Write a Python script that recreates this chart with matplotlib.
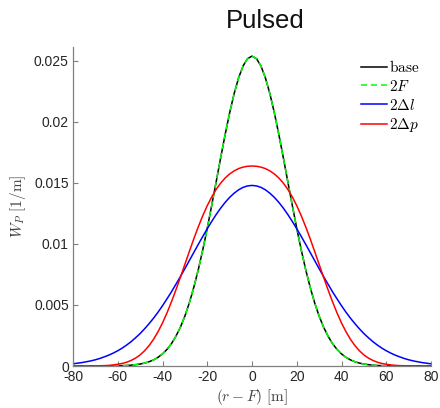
import numpy as np
import matplotlib
matplotlib.use("Agg")
import matplotlib.pyplot as plt

plt.rcParams['font.family'] = ['Liberation Sans', 'DejaVu Sans']
plt.rcParams['mathtext.fontset'] = 'cm'
plt.rcParams['axes.unicode_minus'] = False

# (r-F) grid, every 2 m
r_off = np.arange(-80, 81, 2)

# values
w_base = [0.0, 0.0, 0.0, 0.0, 0.0, 0.0, 0.0, 0.0,
          0.00001, 0.00001, 0.00002, 0.00003, 0.00004, 0.00007, 0.00011, 0.00016,
          0.00024, 0.00035, 0.00050, 0.00071, 0.00099, 0.00136, 0.00183, 0.00244,
          0.00318, 0.00409, 0.00518, 0.00645, 0.00790, 0.00952, 0.01128, 0.01317,
          0.01511, 0.01707, 0.01897, 0.02074, 0.02231, 0.02361, 0.02459, 0.02519,
          0.02540,
          0.02519, 0.02459, 0.02361, 0.02231, 0.02074, 0.01897, 0.01707, 0.01511,
          0.01317, 0.01128, 0.00952, 0.00790, 0.00645, 0.00518, 0.00409, 0.00318,
          0.00244, 0.00183, 0.00136, 0.00099, 0.00071, 0.00050, 0.00035, 0.00024,
          0.00016, 0.00011, 0.00007, 0.00004, 0.00003, 0.00002, 0.00001, 0.00001,
          0.0, 0.0, 0.0, 0.0, 0.0, 0.0, 0.0, 0.0]
# 2F lies exactly on top of base
w_2F = list(w_base)
w_2dl = [0.00018, 0.00023, 0.00028, 0.00035, 0.00042, 0.00051, 0.00062, 0.00075,
         0.00089, 0.00106, 0.00125, 0.00147, 0.00172, 0.00200, 0.00232, 0.00266,
         0.00305, 0.00347, 0.00392, 0.00441, 0.00494, 0.00550, 0.00608, 0.00670,
         0.00733, 0.00798, 0.00864, 0.00931, 0.00997, 0.01062, 0.01125, 0.01185,
         0.01242, 0.01294, 0.01341, 0.01382, 0.01416, 0.01444, 0.01464, 0.01476,
         0.01480,
         0.01476, 0.01464, 0.01444, 0.01416, 0.01382, 0.01341, 0.01294, 0.01242,
         0.01185, 0.01125, 0.01062, 0.00997, 0.00931, 0.00864, 0.00798, 0.00733,
         0.00670, 0.00608, 0.00550, 0.00494, 0.00441, 0.00392, 0.00347, 0.00305,
         0.00266, 0.00232, 0.00200, 0.00172, 0.00147, 0.00125, 0.00106, 0.00089,
         0.00075, 0.00062, 0.00051, 0.00042, 0.00035, 0.00028, 0.00023, 0.00018]
w_2dp = [0.0, 0.0, 0.0, 0.0, 0.00001, 0.00001, 0.00002, 0.00003,
         0.00005, 0.00009, 0.00014, 0.00021, 0.00031, 0.00046, 0.00065, 0.00091,
         0.00125, 0.00167, 0.00219, 0.00281, 0.00353, 0.00435, 0.00526, 0.00624,
         0.00727, 0.00833, 0.00939, 0.01043, 0.01141, 0.01232, 0.01314, 0.01386,
         0.01448, 0.01499, 0.01541, 0.01574, 0.01599, 0.01618, 0.01630, 0.01637,
         0.01639,
         0.01637, 0.01630, 0.01618, 0.01599, 0.01574, 0.01541, 0.01499, 0.01448,
         0.01386, 0.01314, 0.01232, 0.01141, 0.01043, 0.00939, 0.00833, 0.00727,
         0.00624, 0.00526, 0.00435, 0.00353, 0.00281, 0.00219, 0.00167, 0.00125,
         0.00091, 0.00065, 0.00046, 0.00031, 0.00021, 0.00014, 0.00009, 0.00005,
         0.00003, 0.00002, 0.00001, 0.00001, 0.0, 0.0, 0.0, 0.0]

labels = [r'$\mathrm{base}$', r'$2F$', r'$2\Delta l$', r'$2\Delta p$']
xticks = [-80, -60, -40, -20, 0, 20, 40, 60, 80]
yticks = [0, 0.005, 0.01, 0.015, 0.02, 0.025]
ytick_labels = ['0', '0.005', '0.01', '0.015', '0.02', '0.025']

fig = plt.figure(figsize=(4.4, 4.08), dpi=100)
ax = fig.add_axes([73/440, 1-366/408, 358/440, (366-46.7)/408])

lw = 1.1
ax.plot(r_off, w_base, color='black', lw=lw, label=labels[0])
ax.plot(r_off, w_2F, color='#00ff00', lw=lw, ls=(0, (4, 2.5)), label=labels[1])
ax.plot(r_off, w_2dl, color='#0000ff', lw=lw, label=labels[2])
ax.plot(r_off, w_2dp, color='#ff0000', lw=lw, label=labels[3])

ax.set_xlim(-80, 80)
ax.set_ylim(0, 0.02617)
ax.set_xticks(xticks)
ax.set_yticks(yticks)
ax.set_yticklabels(ytick_labels)

for s in ['top', 'right']:
    ax.spines[s].set_visible(False)
for s in ['left', 'bottom']:
    ax.spines[s].set_color('#808080')
    ax.spines[s].set_linewidth(0.9)
ax.tick_params(direction='in', length=3.5, width=0.8, color='#808080',
               labelcolor='#262626', labelsize=10, pad=3)

ax.set_xlabel(r'$(r-F)\ [\mathrm{m}]$', fontsize=11, color='#404040', labelpad=2)
ax.set_ylabel(r'$W_P\ [1/\mathrm{m}]$', fontsize=11, color='#404040', labelpad=4)

fig.text(265/440, 1-28.5/408, 'Pulsed', fontsize=18.5, ha='center', va='baseline',
         color='#111111')

leg = ax.legend(loc='upper left', bbox_to_anchor=(361/440, 1-59/408),
                bbox_transform=fig.transFigure, frameon=False, fontsize=11,
                handlelength=1.7, handletextpad=0.15, labelspacing=0.25,
                borderpad=0, borderaxespad=0)

fig.savefig('out.png', dpi=100)
